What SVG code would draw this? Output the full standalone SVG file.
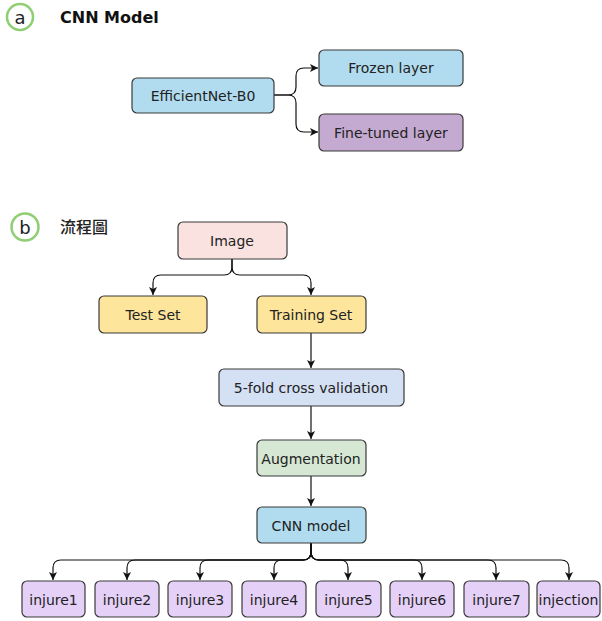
<svg xmlns="http://www.w3.org/2000/svg" width="602" height="621" viewBox="0 0 602 621">
<style>
.box{stroke:#3a3a3a;stroke-width:1.2}
.t{font-family:"DejaVu Sans",Verdana,sans-serif;font-size:14px;fill:#222;text-anchor:middle;dominant-baseline:central}
.c{fill:none;stroke:#111;stroke-width:1.2;marker-end:url(#ah)}
.badge{fill:#fff;stroke:#8fce72;stroke-width:2.5}
</style>
<defs>
<marker id="ah" markerWidth="10" markerHeight="10" refX="9" refY="5" orient="auto" markerUnits="userSpaceOnUse">
<path d="M1,1 L9,5 L1,9 L3,5 Z" fill="#111"/>
</marker>
</defs>
<rect width="602" height="621" fill="#fff"/>
<g id="label-a">
<circle class="badge" cx="20" cy="17" r="13"/>
<text x="20" y="17" class="t" style="font-size:18px">a</text>
<text x="60" y="23" style="font-family:'DejaVu Sans',sans-serif;font-weight:bold;font-size:16px;fill:#111">CNN Model</text>
</g>
<g id="label-b">
<circle class="badge" cx="25" cy="227" r="13.5"/>
<text x="25" y="227" class="t" style="font-size:18px">b</text>
<text x="60" y="233" style="font-family:'Noto Sans CJK TC',sans-serif;font-size:16px;font-weight:500;fill:#222">流程圖</text>
</g>
<g id="connectors">
<path class="c" d="M274,95 H288 Q296,95 296,87 V76 Q296,68 304,68 H318"/>
<path class="c" d="M274,95 H288 Q296,95 296,103 V124 Q296,132 304,132 H318"/>
<path class="c" d="M232,259 V267 Q232,275 224,275 H161 Q153,275 153,283 V295"/>
<path class="c" d="M232,259 V267 Q232,275 240,275 H303 Q311,275 311,283 V295"/>
<path class="c" d="M311,333 V368"/>
<path class="c" d="M311,406 V439"/>
<path class="c" d="M311,476 V506"/>
<g>
<path class="c" d="M311,543 V552 Q311,560 303,560 H61 Q53,560 53,568 V580"/>
<path class="c" d="M311,543 V552 Q311,560 303,560 H135 Q127,560 127,568 V580"/>
<path class="c" d="M311,543 V552 Q311,560 303,560 H208 Q200,560 200,568 V580"/>
<path class="c" d="M311,543 V552 Q311,560 303,560 H282 Q274,560 274,568 V580"/>
<path class="c" d="M311,543 V552 Q311,560 319,560 H340 Q348,560 348,568 V580"/>
<path class="c" d="M311,543 V552 Q311,560 319,560 H414 Q422,560 422,568 V580"/>
<path class="c" d="M311,543 V552 Q311,560 319,560 H488 Q496,560 496,568 V580"/>
<path class="c" d="M311,543 V552 Q311,560 319,560 H561 Q569,560 569,568 V580"/>
</g>
</g>
<g id="efficientnet"><rect class="box" x="132" y="78" width="142" height="35" rx="5" fill="#b1dcef"/><text class="t" x="203" y="96">EfficientNet-B0</text></g>
<g id="frozen"><rect class="box" x="319" y="50" width="144" height="36" rx="5" fill="#b1dcef"/><text class="t" x="391" y="68">Frozen layer</text></g>
<g id="finetuned"><rect class="box" x="319" y="114" width="144" height="37" rx="5" fill="#c4a9d0"/><text class="t" x="391" y="133">Fine-tuned layer</text></g>
<g id="image"><rect class="box" x="178" y="222" width="109" height="37" rx="5" fill="#fae2e0"/><text class="t" x="232" y="241">Image</text></g>
<g id="testset"><rect class="box" x="99" y="296" width="108" height="37" rx="5" fill="#fde59b"/><text class="t" x="153" y="315">Test Set</text></g>
<g id="trainingset"><rect class="box" x="257" y="296" width="109" height="37" rx="5" fill="#fde59b"/><text class="t" x="311" y="315">Training Set</text></g>
<g id="crossval"><rect class="box" x="219" y="369" width="185" height="37" rx="5" fill="#d4e0f4"/><text class="t" x="311" y="388">5-fold cross validation</text></g>
<g id="augmentation"><rect class="box" x="257" y="440" width="109" height="36" rx="5" fill="#d6e8d4"/><text class="t" x="311" y="459">Augmentation</text></g>
<g id="cnnmodel"><rect class="box" x="257" y="507" width="109" height="36" rx="5" fill="#b1dcef"/><text class="t" x="311" y="526">CNN model</text></g>
<g id="injure1"><rect class="box" x="22" y="581" width="63" height="36" rx="5" fill="#e5d0f8"/><text class="t" x="53.5" y="600">injure1</text></g>
<g id="injure2"><rect class="box" x="95" y="581" width="64" height="36" rx="5" fill="#e5d0f8"/><text class="t" x="127" y="600">injure2</text></g>
<g id="injure3"><rect class="box" x="168" y="581" width="64" height="36" rx="5" fill="#e5d0f8"/><text class="t" x="200" y="600">injure3</text></g>
<g id="injure4"><rect class="box" x="242" y="581" width="64" height="36" rx="5" fill="#e5d0f8"/><text class="t" x="274" y="600">injure4</text></g>
<g id="injure5"><rect class="box" x="316" y="581" width="65" height="36" rx="5" fill="#e5d0f8"/><text class="t" x="348.5" y="600">injure5</text></g>
<g id="injure6"><rect class="box" x="390" y="581" width="64" height="36" rx="5" fill="#e5d0f8"/><text class="t" x="422" y="600">injure6</text></g>
<g id="injure7"><rect class="box" x="464" y="581" width="65" height="36" rx="5" fill="#e5d0f8"/><text class="t" x="496.5" y="600">injure7</text></g>
<g id="injection"><rect class="box" x="537" y="581" width="63" height="36" rx="5" fill="#e5d0f8"/><text class="t" x="568.5" y="600">injection</text></g>
</svg>
